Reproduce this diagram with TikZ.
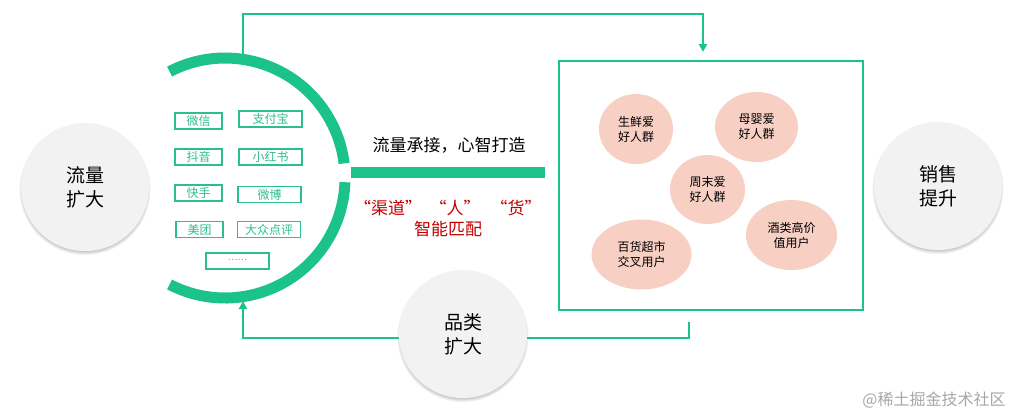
\documentclass[tikz,border=0pt]{standalone}
\usepackage{fontspec}
\setmainfont{Noto Sans CJK SC}
\usetikzlibrary{arrows.meta,shapes.geometric,calc}
\definecolor{gr}{HTML}{1CC28C}
\definecolor{grb}{HTML}{2CBE8E}
\definecolor{rd}{HTML}{C00000}
\definecolor{pk}{HTML}{F7CFC3}
\definecolor{cg}{HTML}{F2F2F2}
\tikzset{
  chan/.style={draw=grb,line width=1.1pt,minimum height=16pt,inner sep=0pt,text=grb,font=\fontsize{12}{12}\selectfont},
  chanS/.style={chan,minimum width=47pt},
  chanL/.style={chan,minimum width=63pt},
  bigc/.style={circle,fill=cg,minimum size=128pt,inner sep=0pt,align=center,font=\fontsize{19}{24}\selectfont},
  crowd/.style={ellipse,fill=pk,inner sep=0pt,align=center,font=\fontsize{12}{15}\selectfont},
  link/.style={draw=gr,line width=2.5pt},
  tip/.style={-{Triangle[length=8pt,width=8pt]}},
  ring/.style={draw=gr,line width=11pt},
}
\newcommand{\softshadow}[2]{%
  \foreach \k in {1,...,6}{\fill[black,opacity=0.035] ($(#1)+(0,2.5)$) circle ({#2+\k*0.6});}}
\begin{document}
\begin{tikzpicture}[x=1pt,y=-1pt]
\useasboundingbox (0,0) rectangle (1021,416);
% shadows
\softshadow{85,187}{62}
\softshadow{463,334}{62}
\softshadow{938,186}{62}
% big arc (y axis points down, so page angles are negated)
\coordinate (ac) at (225,178);
\draw[ring] (ac) ++(-117.5:120) arc[start angle=-117.5,end angle=-7,radius=120];
\draw[ring] (ac) ++(117.5:120) arc[start angle=117.5,end angle=2,radius=120];
% bar
\fill[gr] (351,166.5) rectangle (545,177.5);
% segment box
\node[draw=gr,line width=2pt,minimum width=304pt,minimum height=249pt,inner sep=0pt] (seg) at (711,185.5) {};
% crowds
\node[crowd,minimum width=74pt,minimum height=70pt] (c1) at (636,129) {生鲜爱\\好人群};
\node[crowd,minimum width=83pt,minimum height=70pt] (c2) at (756.5,127) {母婴爱\\好人群};
\node[crowd,minimum width=75pt,minimum height=69pt] (c3) at (707.5,189.5) {周末爱\\好人群};
\node[crowd,minimum width=100pt,minimum height=70pt] (c4) at (641.5,254.5) {百货超市\\交叉用户};
\node[crowd,minimum width=91pt,minimum height=70pt] (c5) at (791.5,235) {酒类高价\\值用户};
% channel boxes
\node[chanS] (wx) at (198.5,121) {微信};
\node[chanL] (zfb) at (270.5,119) {支付宝};
\node[chanS] (dy) at (198.5,157) {抖音};
\node[chanL] (xhs) at (270.5,157) {小红书};
\node[chanS] (ks) at (198.5,193) {快手};
\node[chanL] (wb) at (269.5,194.5) {微博};
\node[chanS] (mt) at (199.5,229.5) {美团};
\node[chanL] (dz) at (269,229.5) {大众点评};
\node[chanL,font=\fontsize{9}{9}\selectfont] (more) at (237.5,261) {\raisebox{2pt}{……}};
% connectors
\coordinate (topstart) at (243,55);
\coordinate (topend) at (703,52);
\draw[link,tip] (topstart) |- (703,14) -- (topend);
\coordinate (botstart) at (689,322);
\coordinate (botend) at (243,301);
\draw[link,tip] (botstart) |- (243,338) -- (botend);
% circles
\node[bigc] (flow) at (85,187) {流量\\扩大};
\node[bigc] (cat) at (463,334) {品类\\扩大};
\node[bigc] (sale) at (938,186) {销售\\提升};
% texts
\node[font=\fontsize{17}{17}\selectfont] (slogan) at (449,145) {流量承接，心智打造};
\node[text=rd,font=\fontsize{17}{17}\selectfont] (q1) at (388,208) {“渠道”};
\node[text=rd,font=\fontsize{17}{17}\selectfont] (q2) at (455,208) {“人”};
\node[text=rd,font=\fontsize{17}{17}\selectfont] (q3) at (516,208) {“货”};
\node[text=rd,font=\fontsize{17}{17}\selectfont] (match) at (448,229) {智能匹配};
\node[text=black!35,font=\fontsize{16}{16}\selectfont] (wm) at (934,400) {@稀土掘金技术社区};
\end{tikzpicture}
\end{document}
